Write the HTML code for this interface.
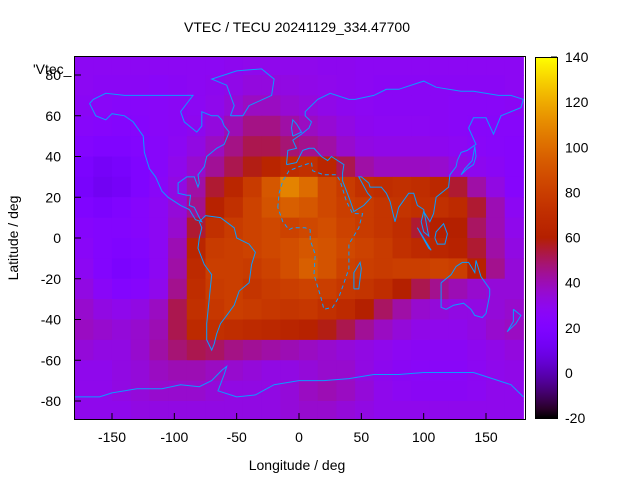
<!DOCTYPE html>
<html><head><meta charset="utf-8"><style>
body{margin:0;background:#fff;}
svg{display:block;font-family:"Liberation Sans",sans-serif;font-size:14px;}
</style></head><body>
<svg id="chart" width="640" height="480" xmlns="http://www.w3.org/2000/svg">
<defs><linearGradient id="pal" x1="0" y1="1" x2="0" y2="0"></linearGradient>
<clipPath id="clip"><rect x="75" y="57" width="450" height="362"/></clipPath></defs>
<text x="297" y="32" text-anchor="middle">VTEC / TECU 20241129_334.47700</text>
<g id="cells" clip-path="url(#clip)"></g>
<g id="coast" clip-path="url(#clip)" fill="none" stroke="#0a9cff" stroke-width="1"></g>
<rect x="74.5" y="56.5" width="451" height="363" fill="none" stroke="#000"/>
<g id="axes"></g>
<text x="33" y="74">'Vtec_</text>
<text x="297" y="470" text-anchor="middle">Longitude / deg</text>
<text transform="translate(18,238) rotate(-90)" text-anchor="middle">Latitude / deg</text>
<rect x="535" y="57" width="22" height="361" fill="url(#pal)"/>
<rect x="535.5" y="57.5" width="22" height="361" fill="none" stroke="#000"/>
</svg>
<script>
const lonCenters=[-172.5,-157.5,-142.5,-127.5,-112.5,-97.5,-82.5,-67.5,-52.5,-37.5,-22.5,-7.5,7.5,22.5,37.5,52.5,67.5,82.5,97.5,112.5,127.5,142.5,157.5,172.5];
const latCenters=[85,75,65,55,45,35,25,15,5,-5,-15,-25,-35,-45,-55,-65,-75,-85];
const vtec=[
[28,28,28,28,28,28,28,28,29,30,30,30,30,29,29,28,28,28,28,28,28,28,28,28],
[28,27,27,27,26,27,28,29,31,33,33,32,31,30,29,28,27,27,27,27,27,27,27,28],
[27,26,25,25,26,27,28,30,34,38,38,35,33,31,29,28,27,27,27,27,26,26,26,27],
[25,24,23,24,26,27,29,33,40,46,46,42,38,35,32,29,28,28,28,27,26,25,25,25],
[22,20,20,22,25,28,32,38,46,52,52,48,45,42,36,32,31,31,31,29,28,26,25,24],
[18,14,16,20,25,30,36,44,52,58,64,70,72,65,52,42,38,38,38,36,32,29,27,24],
[16,12,14,20,26,32,42,55,65,78,92,108,100,85,78,72,70,72,70,66,55,42,32,24],
[20,18,20,24,28,34,45,62,72,82,90,95,92,85,80,78,75,74,72,72,68,55,40,28],
[24,22,22,24,28,36,55,72,78,82,85,82,85,88,82,78,75,70,55,60,60,50,40,30],
[26,22,20,22,28,40,65,78,80,82,85,88,92,90,85,82,78,72,68,65,62,55,42,32],
[28,22,18,20,28,42,68,80,80,78,82,88,95,90,82,80,78,80,80,82,80,62,45,34],
[32,26,22,24,30,45,70,78,80,75,78,80,82,80,76,74,70,60,52,45,40,36,34,34],
[36,32,30,32,38,52,72,76,80,78,76,75,76,72,68,60,50,42,36,34,32,32,34,36],
[38,36,34,36,40,52,68,72,70,68,66,64,62,58,52,44,38,34,31,30,30,32,36,38],
[34,32,32,36,42,48,52,50,46,44,42,40,38,36,34,32,30,28,27,27,27,29,31,33],
[30,30,32,34,38,40,40,38,36,34,32,32,34,36,36,32,29,27,26,26,26,28,30,31],
[30,30,32,34,36,36,36,34,32,32,32,34,38,40,38,34,30,28,27,27,27,28,30,30],
[30,30,30,32,32,32,32,32,32,32,32,34,36,36,34,32,30,30,30,30,30,30,30,30]];
const xTicks=[-150,-100,-50,0,50,100,150];
const yTicks=[80,60,40,20,0,-20,-40,-60,-80];
const cbTicks=[-20,0,20,40,60,80,100,120,140];
const cbMin=-20, cbMax=140;
const NS="http://www.w3.org/2000/svg";
const X=lon=>299+lon*1.2467;
const Y=lat=>238-lat*2.0375;
const CB=v=>418-(v-cbMin)/(cbMax-cbMin)*361;
function pal(v){let x=Math.max(0,Math.min(1,(v-cbMin)/(cbMax-cbMin)));
 const r=Math.sqrt(x),g=x*x*x,b=Math.max(0,Math.sin(2*Math.PI*x));
 return `rgb(${Math.round(r*255)},${Math.round(g*255)},${Math.round(b*255)})`;}
function mk(t,a,p){const e=document.createElementNS(NS,t);for(const k in a)e.setAttribute(k,a[k]);(p||document.getElementById('chart')).appendChild(e);return e;}
const cells=document.getElementById('cells');
latCenters.forEach((la,i)=>lonCenters.forEach((lo,j)=>{
 const x0=X(lo-7.5),x1=X(lo+7.5),y0=Y(la+5),y1=Y(la-5);
 const r=mk('rect',{x:x0,y:y0,width:x1-x0+0.5,height:y1-y0+0.5,fill:pal(vtec[i][j])},cells);
 
 
}));
const grad=document.getElementById('pal');
for(let k=0;k<=40;k++){const s=document.createElementNS(NS,'stop');s.setAttribute('offset',k/40);s.setAttribute('stop-color',pal(cbMin+(cbMax-cbMin)*k/40));grad.appendChild(s);}
const ax=document.getElementById('axes');
xTicks.forEach(t=>{const x=X(t);
 const l=mk('line',{x1:x,y1:419,x2:x,y2:413,stroke:'#000'},ax);
 const s=mk('text',{x:x,y:442,'text-anchor':'middle'},ax);s.textContent=t;});
yTicks.forEach(t=>{const y=Y(t);
 const l=mk('line',{x1:75,y1:y,x2:81,y2:y,stroke:'#000'},ax);
 const s=mk('text',{x:61,y:y+5,'text-anchor':'end'},ax);s.textContent=t;});
cbTicks.forEach(t=>{const y=CB(t);
 const l=mk('line',{x1:551,y1:y,x2:557,y2:y,stroke:'#000'},ax);
 const s=mk('text',{x:565,y:y+5},ax);s.textContent=t;});
const coasts={
'north-america':[[-168,66],[-163,60],[-155,58],[-150,61],[-140,60],[-133,57],[-125,50],[-124,42],[-120,34],[-115,30],[-110,23],[-105,20],[-95,16],[-88,14],[-83,9],[-78,8],[-80,10],[-84,15],[-88,16],[-87,21],[-90,21],[-97,22],[-97,27],[-90,30],[-84,30],[-81,25],[-80,27],[-81,31],[-76,35],[-74,40],[-70,42],[-66,44],[-60,46],[-56,52],[-60,55],[-62,58],[-65,60],[-70,60],[-78,62],[-78,55],[-82,52],[-92,57],[-95,62],[-90,66],[-85,70],[-100,70],[-110,70],[-125,70],[-140,70],[-155,71],[-165,68],[-168,66]],
'greenland':[[-55,60],[-45,60],[-40,65],[-22,70],[-20,78],[-30,83],[-50,82],[-60,80],[-70,78],[-58,75],[-55,70],[-52,65],[-55,60]],
'south-america':[[-80,8],[-75,11],[-63,10],[-52,5],[-50,0],[-40,-3],[-35,-7],[-38,-13],[-40,-22],[-48,-26],[-52,-33],[-58,-38],[-63,-42],[-66,-47],[-68,-52],[-70,-55],[-74,-50],[-74,-42],[-72,-30],[-70,-18],[-76,-13],[-81,-5],[-80,0],[-78,5],[-80,8]],
'africa':[[-17,15],[-16,22],[-13,28],[-8,33],[0,35],[10,37],[11,33],[20,31],[30,31],[33,28],[38,18],[43,12],[51,12],[48,5],[40,-3],[40,-15],[35,-24],[32,-29],[27,-34],[20,-35],[18,-30],[12,-18],[13,-8],[9,-1],[9,4],[5,5],[-5,5],[-8,4],[-13,8],[-17,15]],
'eurasia':[[-10,36],[-9,43],[-2,44],[-5,48],[2,51],[8,54],[10,57],[5,60],[5,62],[15,68],[25,71],[40,68],[45,68],[60,70],[70,73],[80,73],[100,77],[110,74],[130,72],[140,72],[160,70],[170,70],[180,68],[178,64],[162,60],[156,51],[150,59],[140,59],[136,54],[142,46],[135,43],[130,42],[127,38],[126,35],[121,31],[120,25],[110,20],[108,12],[105,8],[100,13],[98,8],[100,3],[104,1],[100,14],[95,16],[92,22],[88,22],[80,15],[77,8],[73,18],[70,22],[66,25],[57,25],[56,27],[50,30],[48,30],[55,22],[58,20],[52,16],[44,13],[40,20],[35,28],[35,32],[36,36],[26,40],[23,38],[18,40],[12,44],[8,44],[3,43],[-2,37],[-10,36]],
'australia':[[114,-22],[114,-34],[118,-35],[124,-33],[132,-32],[138,-35],[141,-38],[147,-39],[150,-37],[153,-28],[153,-25],[146,-19],[142,-11],[141,-17],[136,-12],[131,-12],[126,-14],[122,-18],[114,-22]],
'antarctica':[[-180,-78],[-160,-78],[-150,-76],[-130,-74],[-110,-74],[-95,-72],[-80,-73],[-70,-70],[-62,-65],[-58,-63],[-60,-67],[-65,-75],[-50,-78],[-35,-77],[-20,-72],[0,-70],[20,-70],[40,-69],[60,-67],[80,-67],[100,-66],[120,-66],[140,-66],[160,-70],[170,-72],[180,-78]],
'britain':[[-5,50],[2,52],[-2,56],[-5,58],[-6,54],[-5,50]],
'japan':[[130,31],[135,34],[140,36],[142,40],[141,45],[139,38],[133,34],[130,31]],
'madagascar':[[44,-25],[48,-25],[50,-15],[49,-12],[44,-17],[44,-25]],
'borneo':[[109,0],[110,3],[116,7],[119,2],[117,-3],[111,-3],[109,0]],
'sumatra':[[95,5],[104,-5],[106,-6],[100,0],[95,5]],
'new-zealand':[[172,-35],[178,-38],[174,-42],[167,-46],[172,-41],[172,-35]]};
const cg=document.getElementById('coast');
for(const k in coasts){const p=mk('polyline',{points:coasts[k].map(q=>X(q[0]).toFixed(1)+','+Y(q[1]).toFixed(1)).join(' ')},cg);
 if(k==='africa')p.setAttribute('stroke-dasharray','4 3');
 
 }
</script>
</body></html>
